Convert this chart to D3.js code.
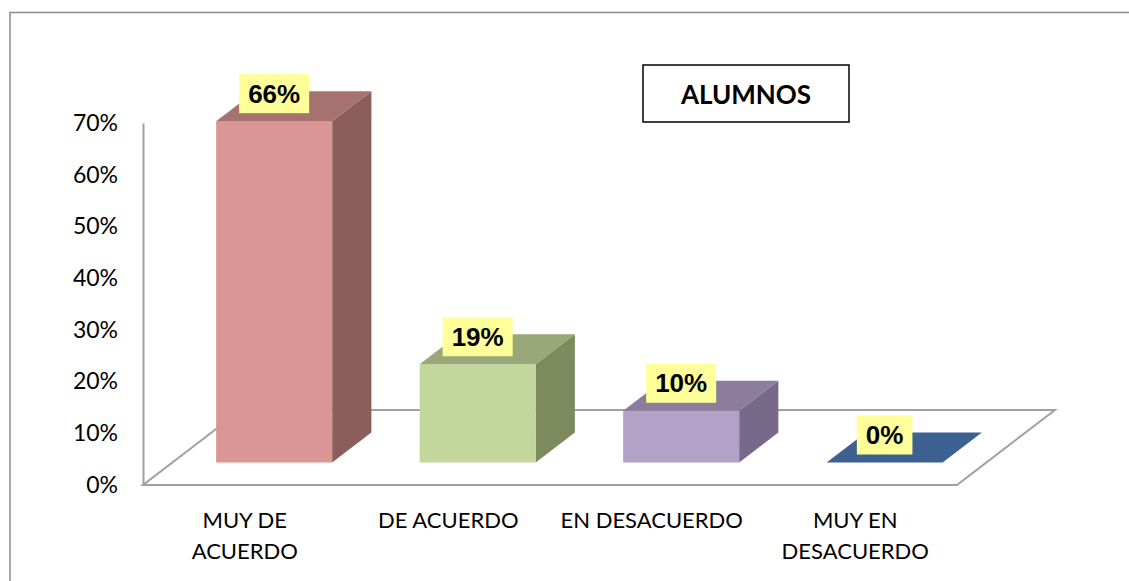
<!DOCTYPE html>
<html>
<head>
<meta charset="utf-8">
<script src="https://cdn.jsdelivr.net/npm/d3@7"></script>
<style>
  body { margin: 0; background: #fff; }
  svg { display: block; }
</style>
</head>
<body>
<svg width="1129" height="581"></svg>
<script>
// datos
const categories = [["MUY DE", "ACUERDO"], ["DE ACUERDO"], ["EN DESACUERDO"], ["MUY EN", "DESACUERDO"]];
const values = [0.66, 0.19, 0.10, 0.00];
const valueLabels = ["66%", "19%", "10%", "0%"];
const tickValues = [0, 0.1, 0.2, 0.3, 0.4, 0.5, 0.6, 0.7];
const title = "ALUMNOS";

const frontColors = ["#d99694", "#c3d69b", "#b3a2c7", "#3d6190"];
const topColors = ["#a5726f", "#98a878", "#8b7d9b", "#3d6190"];
const sideColors = ["#8b5e5c", "#7c8a5e", "#76698a", "#2f4d73"];

const svg = d3.select("svg");

// marco exterior
svg.append("rect")
  .attr("x", 10).attr("y", 12.5)
  .attr("width", 1130).attr("height", 600)
  .attr("fill", "none").attr("stroke", "#8c8c8c").attr("stroke-width", 1.5);

const x = d3.scaleBand().domain(d3.range(categories.length)).range([143, 957]);
const y = d3.scaleLinear().domain([0, 0.7]).range([485, 123]);

// profundidad del piso
const depth = { dx: 98, dy: -75 };
const f0 = 0.3, f1 = 0.7; // posicion de la barra en la profundidad
const barW = 116;

// piso
const floor = [
  [143, y(0)], [957, y(0)],
  [957 + depth.dx, y(0) + depth.dy], [143 + depth.dx, y(0) + depth.dy]
];
svg.append("path")
  .attr("d", d3.line()(floor) + "Z")
  .attr("fill", "#fff").attr("stroke", "#a0a0a0").attr("stroke-width", 2);

// eje Y
const axis = svg.append("g")
  .attr("transform", "translate(143,0)")
  .call(d3.axisLeft(y).tickValues(tickValues).tickFormat(d3.format(".0%")).tickSize(0).tickPadding(25));
axis.select(".domain").attr("stroke", "#a0a0a0").attr("stroke-width", 2);
axis.selectAll("text")
  .attr("font-family", "Lato, 'Open Sans', sans-serif")
  .attr("font-size", 23).attr("fill", "#000");

// barras 3D
const bars = svg.append("g");
values.forEach((v, i) => {
  const cx = x(i) + x.bandwidth() / 2;
  const x0 = cx + f0 * depth.dx - barW / 2;
  const yb = y(0) + f0 * depth.dy;
  const h = y(0) - y(v);
  const yt = yb - h;
  const ddx = (f1 - f0) * depth.dx, ddy = (f1 - f0) * depth.dy;

  if (h > 0) {
    bars.append("path")
      .attr("d", d3.line()([[x0 + barW, yt], [x0 + barW + ddx, yt + ddy], [x0 + barW + ddx, yb + ddy], [x0 + barW, yb]]) + "Z")
      .attr("fill", sideColors[i]);
    bars.append("rect")
      .attr("x", x0).attr("y", yt).attr("width", barW).attr("height", h)
      .attr("fill", frontColors[i]);
  }
  bars.append("path")
    .attr("d", d3.line()([[x0, yt], [x0 + ddx, yt + ddy], [x0 + barW + ddx, yt + ddy], [x0 + barW, yt]]) + "Z")
    .attr("fill", topColors[i]);

  // etiqueta de valor
  const lx = x0 + barW / 2, ly = yt - 27.5;
  const lbl = bars.append("g");
  const t = lbl.append("text")
    .attr("x", lx).attr("y", ly)
    .attr("text-anchor", "middle").attr("dominant-baseline", "central")
    .attr("font-family", "'Liberation Sans', Arial, sans-serif")
    .attr("font-weight", "bold").attr("font-size", 26)
    .text(valueLabels[i]);
  const bb = t.node().getBBox();
  lbl.insert("rect", "text")
    .attr("x", lx - bb.width / 2 - 9).attr("y", ly - 19.5)
    .attr("width", bb.width + 18).attr("height", 39)
    .attr("fill", "#ffff99");
});

// etiquetas de categoria
categories.forEach((lines, i) => {
  const t = svg.append("text")
    .attr("x", x(i) + x.bandwidth() / 2).attr("y", 528)
    .attr("text-anchor", "middle")
    .attr("font-family", "Lato, 'Open Sans', sans-serif")
    .attr("font-size", 22).attr("fill", "#000");
  lines.forEach((l, j) => {
    t.append("tspan").attr("x", x(i) + x.bandwidth() / 2).attr("dy", j ? 31 : 0).text(l);
  });
});

// titulo
svg.append("rect")
  .attr("x", 643).attr("y", 65).attr("width", 206).attr("height", 57)
  .attr("fill", "#fff").attr("stroke", "#000").attr("stroke-width", 1.5);
svg.append("text")
  .attr("x", 746).attr("y", 94)
  .attr("text-anchor", "middle").attr("dominant-baseline", "central")
  .attr("font-family", "Lato, 'Open Sans', sans-serif")
  .attr("font-weight", "bold").attr("font-size", 26)
  .text(title);
</script>
</body>
</html>
